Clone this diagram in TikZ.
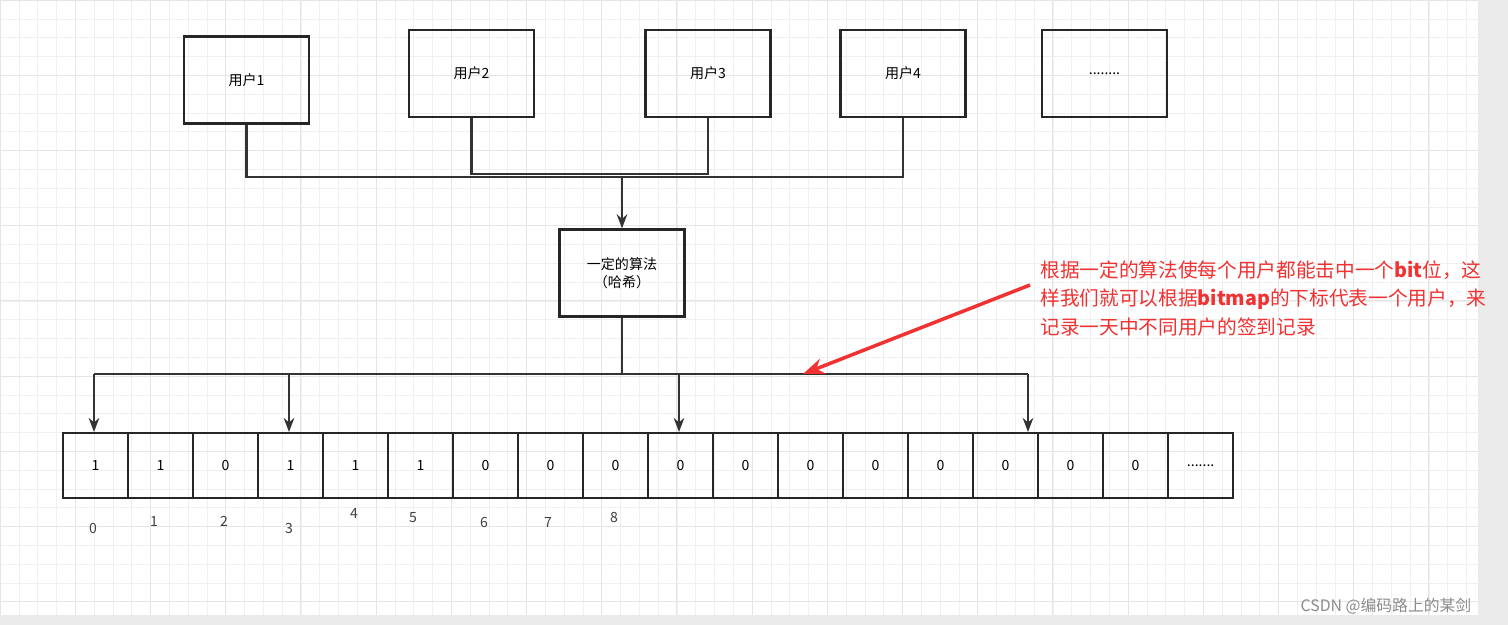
\documentclass[tikz,border=0pt]{standalone}
\usepackage{fontspec}
\setmainfont{Noto Sans CJK SC}
\usetikzlibrary{arrows.meta}
\newcommand\mydots{.......}
\definecolor{myred}{RGB}{240,50,50}
\begin{document}
\begin{tikzpicture}[x=0.02cm,y=-0.02cm,
  box/.style={draw=black!85,line width=1.3pt,minimum width=2.5cm,minimum height=1.74cm,font=\fontsize{8}{10}\selectfont,align=center},
  cell/.style={draw=black!85,line width=1.3pt,minimum width=1.3cm,minimum height=1.3cm,font=\fontsize{8}{10}\selectfont,anchor=north west,inner sep=0pt},
  ln/.style={draw=black!80,line width=1.3pt},
  arr/.style={ln,-{Stealth[length=8pt,width=6pt]}},
  idx/.style={font=\fontsize{8}{10}\selectfont,text=black!75}]
\useasboundingbox (0,0) rectangle (1508,625);
\fill[black!8] (0,0) rectangle (1508,625);
\fill[white] (0,0) rectangle (1478,615);
\foreach \k in {0,...,78} \draw[black!6,line width=0.3pt] ({\k*18.8},0) -- ({\k*18.8},615);
\foreach \k in {0,...,32} \draw[black!6,line width=0.3pt] (0,{\k*18.8}) -- (1478,{\k*18.8});
\foreach \k in {0,...,19} \draw[black!10,line width=0.4pt] ({\k*75.2},0) -- ({\k*75.2},615);
\foreach \k in {0,...,8} \draw[black!10,line width=0.4pt] (0,{\k*75.2}) -- (1478,{\k*75.2});
\node[box] (u1) at (246.5,80) {用户1};
\node[box] (u2) at (471.5,73.5) {用户2};
\node[box] (u3) at (708,73.5) {用户3};
\node[box] (u4) at (903,73.5) {用户4};
\node[box] (u5) at (1104.5,73.5) {........};
\node[box] (alg) at (622,273) {一定的算法\\（哈希）};
\coordinate (j) at (622,177);
\draw[ln] (u1.south) |- (903,177) -- (u4.south);
\draw[ln] (u2.south) -- (471.5,174) -- (708,174) -- (u3.south);
\draw[arr] (j) -- (alg.north);
\coordinate (b) at (622,374);
\draw[ln] (alg.south) -- (b);
\draw[ln] (94,374) -- (1028,374);
\foreach \v [count=\i from 0] in {1,1,0,1,1,1,0,0,0,0,0,0,0,0,0,0,0,\mydots}
  \node[cell] (c\i) at ({62+\i*65},432) {\v};
\foreach \i/\x in {0/94,3/289,9/679,15/1028}
  \draw[arr] (\x,374) -- (c\i.north -| \x,0);
\foreach \t/\x/\y in {0/93/528,1/154/521,2/224/521,3/289/528,4/354/513,5/413/518,6/484/522,7/548/522,8/614/517}
  \node[idx] (i\t) at (\x,\y) {\t};
\node[anchor=north west,text=myred,font=\fontsize{11.2}{16.3}\selectfont,align=left,inner sep=0pt] (note) at (1040,260)
 {根据一定的算法使每个用户都能击中一个\textbf{bit}位，这\\样我们就可以根据\textbf{bitmap}的下标代表一个用户，来\\记录一天中不同用户的签到记录};
\coordinate (t) at (803,374);
\draw[myred,line width=2pt,-{Stealth[length=12pt,width=9pt]}] (1030,285) -- (t);
\node[text=black!45,font=\fontsize{9}{11}\selectfont] (wm) at (1386,606) {CSDN @编码路上的某剑};
\end{tikzpicture}
\end{document}
